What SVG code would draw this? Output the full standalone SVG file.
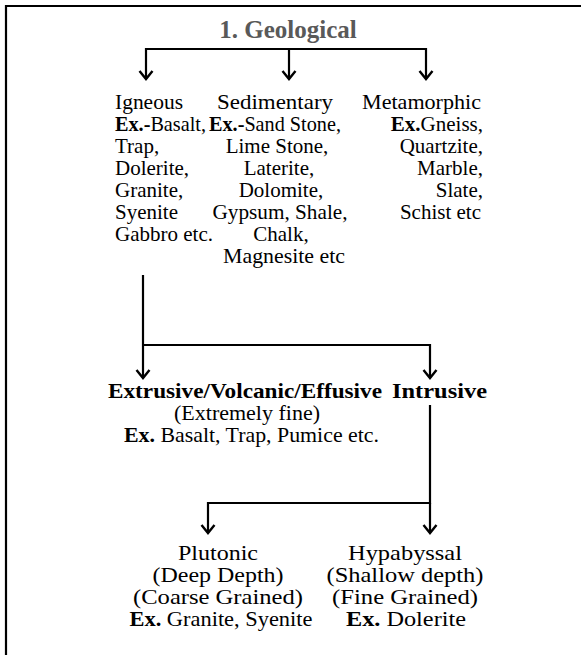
<svg xmlns="http://www.w3.org/2000/svg" width="581" height="655" viewBox="0 0 581 655">
<style>
text{font-family:"Liberation Serif","Times New Roman",serif;font-size:21px;fill:#000}
.b{font-weight:bold}
.t{font-weight:bold;font-size:25px;fill:#595959}
.h{font-weight:bold;font-size:21px}
.m{text-anchor:middle}
.e{text-anchor:end}
.ln{fill:none;stroke:#000;stroke-width:2.2}
</style>
<defs>
<marker id="ah" markerUnits="userSpaceOnUse" orient="auto" refX="0" refY="0" overflow="visible" markerWidth="10" markerHeight="16">
<path d="M-8,-6.5 L0,0 L-8,6.5" fill="none" stroke="#000" stroke-width="2.4"/>
</marker>
</defs>
<rect width="581" height="655" fill="#fff"/>
<path d="M6,655 V6 H581" fill="none" stroke="#000" stroke-width="2.2"/>
<g id="connectors">
<path class="ln" d="M146,49 H426"/>
<path class="ln" d="M146,48 V79" marker-end="url(#ah)"/>
<path class="ln" d="M289,49 V79" marker-end="url(#ah)"/>
<path class="ln" d="M426,48 V79" marker-end="url(#ah)"/>
<path class="ln" d="M143,275 V378" marker-end="url(#ah)"/>
<path class="ln" d="M143,345 H430 V378" marker-end="url(#ah)"/>
<path class="ln" d="M430,405 V503 H208 V533" marker-end="url(#ah)"/>
<path class="ln" d="M430,503 V533" marker-end="url(#ah)"/>
</g>
<g id="geological"><text class="t m" x="288" y="38">1. Geological</text></g>
<g id="igneous">
<text x="115" y="109" textLength="68" lengthAdjust="spacingAndGlyphs">Igneous</text>
<text x="115" y="131" textLength="91" lengthAdjust="spacingAndGlyphs"><tspan class="b">Ex.-</tspan>Basalt,</text>
<text x="115" y="153">Trap,</text>
<text x="115" y="175">Dolerite,</text>
<text x="115" y="197">Granite,</text>
<text x="115" y="219">Syenite</text>
<text x="115" y="241">Gabbro etc.</text>
</g>
<g id="sedimentary">
<text class="m" x="275" y="109" textLength="116" lengthAdjust="spacingAndGlyphs">Sedimentary</text>
<text x="209" y="131" textLength="132" lengthAdjust="spacingAndGlyphs"><tspan class="b">Ex.-</tspan>Sand Stone,</text>
<text class="m" x="277" y="153">Lime Stone,</text>
<text class="m" x="279" y="175">Laterite,</text>
<text class="m" x="281" y="197">Dolomite,</text>
<text class="m" x="280" y="219" textLength="135" lengthAdjust="spacingAndGlyphs">Gypsum, Shale,</text>
<text class="m" x="281" y="241">Chalk,</text>
<text class="m" x="284" y="263" textLength="122" lengthAdjust="spacingAndGlyphs">Magnesite etc</text>
</g>
<g id="metamorphic">
<text class="e" x="481" y="109" textLength="119" lengthAdjust="spacingAndGlyphs">Metamorphic</text>
<text class="e" x="483" y="131"><tspan class="b">Ex.</tspan>Gneiss,</text>
<text class="e" x="483" y="153">Quartzite,</text>
<text class="e" x="483" y="175">Marble,</text>
<text class="e" x="483" y="197">Slate,</text>
<text class="e" x="481" y="219">Schist etc</text>
</g>
<g id="extrusive">
<text class="h" x="108" y="398" textLength="274" lengthAdjust="spacingAndGlyphs">Extrusive/Volcanic/Effusive</text>
<text x="174" y="420" textLength="146" lengthAdjust="spacingAndGlyphs">(Extremely fine)</text>
<text x="124" y="442" textLength="255" lengthAdjust="spacingAndGlyphs"><tspan class="b">Ex.</tspan> Basalt, Trap, Pumice etc.</text>
</g>
<g id="intrusive"><text class="h" x="392" y="398" textLength="95" lengthAdjust="spacingAndGlyphs">Intrusive</text></g>
<g id="plutonic">
<text class="m" x="218" y="560" textLength="80" lengthAdjust="spacingAndGlyphs">Plutonic</text>
<text class="m" x="218" y="582" textLength="131" lengthAdjust="spacingAndGlyphs">(Deep Depth)</text>
<text class="m" x="218" y="604" textLength="170" lengthAdjust="spacingAndGlyphs">(Coarse Grained)</text>
<text class="m" x="221" y="626" textLength="183" lengthAdjust="spacingAndGlyphs"><tspan class="b">Ex.</tspan> Granite, Syenite</text>
</g>
<g id="hypabyssal">
<text class="m" x="405" y="560" textLength="114" lengthAdjust="spacingAndGlyphs">Hypabyssal</text>
<text class="m" x="405" y="582" textLength="157" lengthAdjust="spacingAndGlyphs">(Shallow depth)</text>
<text class="m" x="405" y="604" textLength="146" lengthAdjust="spacingAndGlyphs">(Fine Grained)</text>
<text class="m" x="406" y="626" textLength="120" lengthAdjust="spacingAndGlyphs"><tspan class="b">Ex.</tspan> Dolerite</text>
</g>
</svg>
